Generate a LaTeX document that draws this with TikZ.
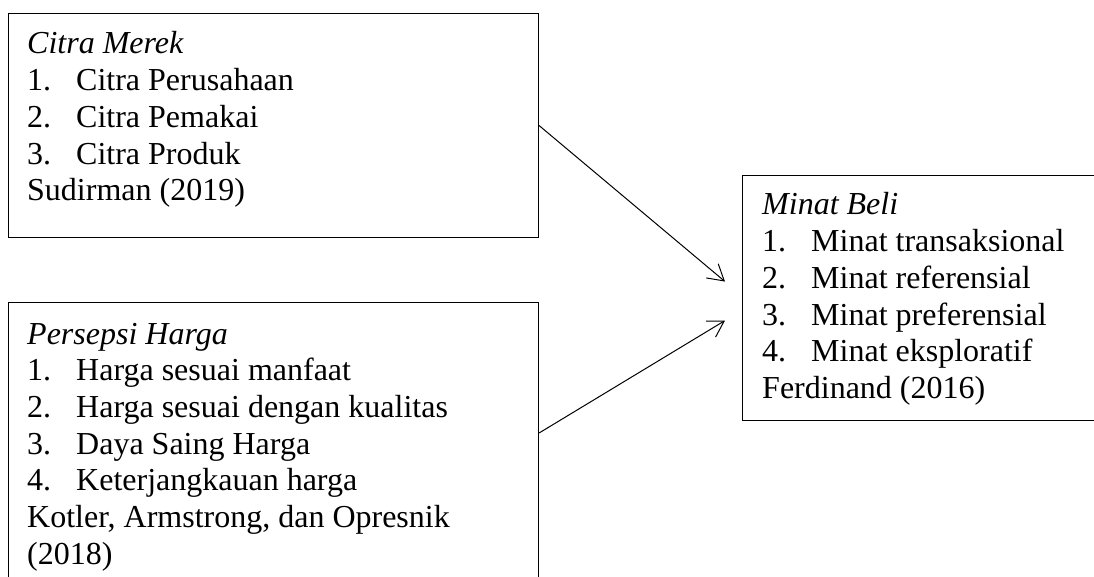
\documentclass[tikz,border=0pt]{standalone}
\usepackage{fontspec}
\setmainfont{Liberation Serif}
\usetikzlibrary{arrows.meta, calc}
\tikzstyle{frame} = [rectangle, draw=black, line width=1.1pt, inner sep=0pt, anchor=north west]
\tikzstyle{list} = [anchor=base west, inner sep=0pt, font=\fontsize{32}{36.7}\selectfont]
\tikzstyle{arrow} = [line width=1pt, -{Straight Barb[length=15.6pt, width=18.5pt]}]
\newcommand{\itemno}[1]{\makebox[49pt][l]{#1}}

\begin{document}
\begin{tikzpicture}[x=1pt, y=-1pt]
    \useasboundingbox (0,0) rectangle (1094,577);
    \clip (0,0) rectangle (1094,577);

    % variable boxes
    \node[frame, minimum width=530, minimum height=224] (merek) at (8,13) {};
    \node[frame, minimum width=530, minimum height=300] (harga) at (8,302) {};
    \node[frame, minimum width=400, minimum height=245] (minat) at (742,175) {};

    % indicators
    \node[list] (merektext) at ($(merek.north west)+(19,41)$) {\begin{tabular}[t]{@{}l@{}}
        \textit{Citra Merek}\\
        \itemno{1.}Citra Perusahaan\\
        \itemno{2.}Citra Pemakai\\
        \itemno{3.}Citra Produk\\
        Sudirman (2019)
    \end{tabular}};
    \node[list] (hargatext) at ($(harga.north west)+(19,42)$) {\begin{tabular}[t]{@{}l@{}}
        \textit{Persepsi Harga}\\
        \itemno{1.}Harga sesuai manfaat\\
        \itemno{2.}Harga sesuai dengan kualitas\\
        \itemno{3.}Daya Saing Harga\\
        \itemno{4.}Keterjangkauan harga\\
        Kotler, Armstrong, dan Opresnik\\
        (2018)
    \end{tabular}};
    \node[list] (minattext) at ($(minat.north west)+(20,40)$) {\begin{tabular}[t]{@{}l@{}}
        \textit{Minat Beli}\\
        \itemno{1.}Minat transaksional\\
        \itemno{2.}Minat referensial\\
        \itemno{3.}Minat preferensial\\
        \itemno{4.}Minat eksploratif\\
        Ferdinand (2016)
    \end{tabular}};

    \draw[arrow] (merek.east) -- ($(minat.west)+(-17,-16.5)$);
    \draw[arrow] ($(harga.north east)+(0,131)$) -- ($(minat.west)+(-17,22.5)$);
\end{tikzpicture}
\end{document}
